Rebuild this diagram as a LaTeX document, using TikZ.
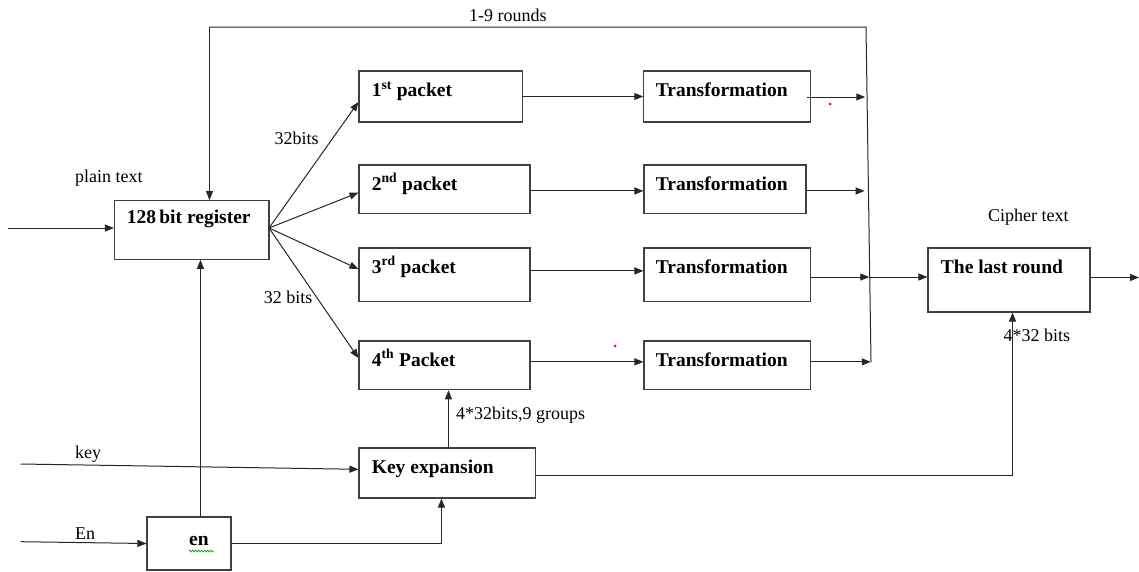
\documentclass[tikz,border=0pt]{standalone}
\usepackage{fontspec}
\setmainfont{Liberation Serif}
\usetikzlibrary{arrows.meta,calc,decorations.pathmorphing}
\begin{document}
\begin{tikzpicture}[x=1pt,y=-1pt,
  box/.style={draw=black!75,line width=1.1pt,inner sep=0pt,rectangle},
  bt/.style={inner sep=0pt,anchor=base west,font=\fontsize{19.5}{22}\selectfont\bfseries},
  nt/.style={inner sep=0pt,anchor=west,font=\fontsize{18}{20}\selectfont},
  arr/.style={draw=black!85,line width=1pt,-{Triangle[length=9pt,width=7pt]}},
  ln/.style={draw=black!85,line width=1pt}]
\useasboundingbox (0,0) rectangle (1139,571);
% boxes
\node[box,minimum width=154.5pt,minimum height=58.6pt] (reg) at (191.75,230) {};
\node[box,minimum width=163.5pt,minimum height=51pt] (p1) at (440.75,96.5) {};
\node[box,minimum width=171pt,minimum height=48.7pt] (p2) at (444.5,189.35) {};
\node[box,minimum width=171pt,minimum height=53.7pt] (p3) at (444.5,274.85) {};
\node[box,minimum width=171pt,minimum height=48.7pt] (p4) at (444.5,365.35) {};
\node[box,minimum width=176.6pt,minimum height=50pt] (kx) at (447.3,473) {};
\node[box,minimum width=84pt,minimum height=53pt] (en) at (189,543.5) {};
\node[box,minimum width=166.9pt,minimum height=51pt] (t1) at (727.25,96.5) {};
\node[box,minimum width=162pt,minimum height=48.7pt] (t2) at (725,189.35) {};
\node[box,minimum width=166.7pt,minimum height=53.7pt] (t3) at (727.35,274.85) {};
\node[box,minimum width=166.7pt,minimum height=48.7pt] (t4) at (727.35,365.35) {};
\node[box,minimum width=162pt,minimum height=64pt] (lr) at (1009,280) {};
% box texts
\node[bt] (regl) at (126.7,223.3) {128\,bit register};
\node[bt] (p1l) at (371.7,96.7) {1\textsuperscript{st} packet};
\node[bt] (p2l) at (371.7,190) {2\textsuperscript{nd} packet};
\node[bt] (p3l) at (371.7,273.3) {3\textsuperscript{rd} packet};
\node[bt] (p4l) at (371.7,366) {4\textsuperscript{th} Packet};
\node[bt] (kxl) at (371.7,473.3) {Key expansion};
\node[bt] (enl) at (189,545) {en};
\node[bt] (t1l) at (655.7,96.7) {Transformation};
\node[bt] (t2l) at (655.7,190) {Transformation};
\node[bt] (t3l) at (655.7,273) {Transformation};
\node[bt] (t4l) at (655.7,366) {Transformation};
\node[bt] (lrl) at (940.7,273.3) {The last round};
% free labels
\node[nt] (lrounds) at (469,15) {1-9 rounds};
\node[nt] (lplain) at (75,178) {plain text};
\node[nt] (l32a) at (274.5,138) {32bits};
\node[nt] (l32b) at (263.6,297) {32 bits};
\node[nt] (lkey) at (75,454) {key};
\node[nt] (lEn) at (75,534) {En};
\node[nt] (lgroups) at (456,415) {4*32bits,9 groups};
\node[nt] (lcipher) at (988,217) {Cipher text};
\node[nt] (l432) at (1003.5,335.7) {4*32 bits};
% coordinates
\coordinate (plainIn) at (8,228);
\coordinate (keyIn) at (20.7,464);
\coordinate (enIn) at (20.7,541.7);
\coordinate (busTop) at (866,27);
\coordinate (busBot) at (871,362);
\coordinate (busJ) at (869,277);
\coordinate (fbX) at (209.5,27);
\coordinate (fan) at (269,228);
\coordinate (outEnd) at (1139,277.5);
% connectors
\draw[arr] (plainIn) -- (plainIn -| reg.west);
\draw[arr] (fan) -- ($(p1.west)+(0,5.5)$);
\draw[arr] (fan) -- ($(p2.west)+(0,3.3)$);
\draw[arr] (fan) -- ($(p3.west)+(0,-5.8)$);
\draw[arr] (fan) -- ($(p4.west)+(0,-7.3)$);
\draw[arr] (p1.east) -- (t1.west);
\draw[arr] ($(p2.east)+(0,1.6)$) -- ($(t2.west)+(0,1.6)$);
\draw[arr] ($(p3.east)+(0,-4)$) -- ($(t3.west)+(0,-4)$);
\draw[arr] ($(p4.east)+(0,-3.5)$) -- ($(t4.west)+(0,-3.5)$);
\draw[arr] ($(t1.east)+(-4,0.5)$) -- ($(t1.east)+(54,0.5)$);
\draw[arr] ($(t2.east)+(0,1.6)$) -- ($(t2.east)+(58,1.6)$);
\draw[arr] ($(t3.east)+(0,2.2)$) -- ($(t3.east)+(58,2.2)$);
\draw[arr] ($(t4.east)+(0,-3.5)$) -- ($(t4.east)+(59.5,-3.5)$);
\draw[ln] (busBot) -- (busTop) -- (fbX);
\draw[arr] (fbX) -- (fbX |- reg.north);
\draw[arr] (busJ) -- (busJ -| lr.west);
\draw[arr] ($(lr.east)+(0,-2.5)$) -- (outEnd);
\draw[arr] (keyIn) -- ($(kx.west)+(0,-3.7)$);
\draw[arr] (enIn) -- (en.west);
\coordinate (enUp) at ($(en.north west)+(54,0)$);
\draw[arr] (enUp) -- (enUp |- reg.south);
\coordinate (kxIn) at ($(kx.south west)+(83,0)$);
\draw[arr] (en.east) -| (kxIn);
\coordinate (kxUp) at ($(kx.north west)+(90,0)$);
\draw[arr] (kxUp) -- (kxUp |- p4.south);
\coordinate (lrIn) at ($(lr.south)+(3.5,0)$);
\coordinate (kxOut) at ($(kx.east)+(0,2.7)$);
\draw[arr] (kxOut) -| (lrIn);
% artifacts
\fill[red] (830,104) circle (1.5pt);
\fill[red] (615,346) circle (1.5pt);
\draw[green!60!black,line width=0.6pt,decorate,decoration={zigzag,segment length=3pt,amplitude=1pt}] (189,551) -- (214,551);
\end{tikzpicture}
\end{document}
